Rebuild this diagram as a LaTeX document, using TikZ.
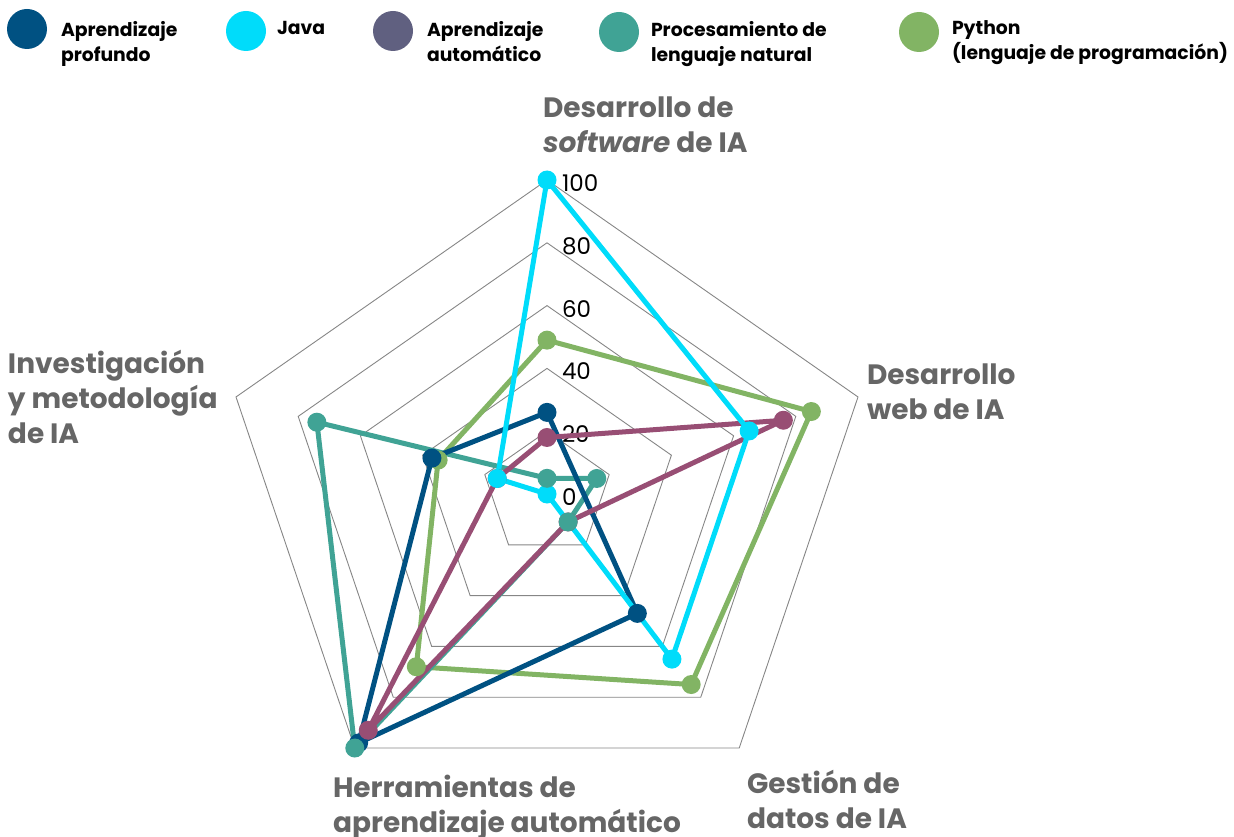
\documentclass[tikz,border=0pt]{standalone}
\usepackage{fontspec}
\setmainfont{Poppins}
\usetikzlibrary{positioning}
\definecolor{azulosc}{RGB}{0,81,130}
\definecolor{cian}{RGB}{0,220,250}
\definecolor{pizarra}{RGB}{96,96,128}
\definecolor{granate}{RGB}{152,78,116}
\definecolor{verdeazul}{RGB}{64,163,149}
\definecolor{verde}{RGB}{130,180,100}
\definecolor{gris}{RGB}{102,102,102}
\begin{document}
\begin{tikzpicture}[x=1pt,y=-1pt,inner sep=0pt,outer sep=0pt,
gridline/.style={draw=gray!95,line width=0.9pt},
serie/.style={line width=5pt,line join=round},
punto/.style={circle,minimum size=19pt},
numlabel/.style={anchor=west,xshift=15pt,yshift=-3pt,font=\fontsize{23}{23}\selectfont},
leyball/.style={circle,minimum size=40pt},
leytext/.style={anchor=north west,align=left,font=\fontsize{18.8}{25}\selectfont\bfseries},
axislabel/.style={anchor=north west,align=left,text=gris,font=\fontsize{28}{35}\selectfont\bfseries}]
\useasboundingbox (0,0) rectangle (1234,837);
% leyenda
\node[leyball,fill=azulosc] (l1) at (27,29) {};
\node[leytext] (t1) at (61,21) {Aprendizaje\\profundo};
\node[leyball,fill=cian] (l2) at (246,31) {};
\node[leytext] (t2) at (277,21) {Java};
\node[leyball,fill=pizarra] (l3) at (393,31) {};
\node[leytext] (t3) at (427,21) {Aprendizaje\\automático};
\node[leyball,fill=verdeazul] (l4) at (619,32) {};
\node[leytext] (t4) at (651,21) {Procesamiento de\\lenguaje natural};
\node[leyball,fill=verde] (l5) at (919,32) {};
\node[leytext] (t5) at (952,21) {Python\\(lenguaje de programación)};
% ejes
\node[axislabel] (a1) at (543,97) {Desarrollo de\\\textit{software} de IA};
\node[axislabel] (a2) at (867,364) {Desarrollo\\web de IA};
\node[axislabel] (a3) at (747,770) {Gestión de\\datos de IA};
\node[axislabel] (a4) at (333,775) {Herramientas de\\aprendizaje automático};
\node[axislabel] (a5) at (8,350) {Investigación\\y metodología\\de IA};
\begin{scope}[shift={(547,494)},x=3.27pt,y=3.14pt]
\foreach \r in {20,40,...,100}
  \draw[gridline] (90:\r) -- (18:\r) -- (-54:\r) -- (-126:\r) -- (162:\r) -- cycle;
\foreach \r in {0,20,...,100}
  \node[numlabel] (n\r) at (90:\r) {\r};
\foreach \s/\vt/\vr/\vbr/\vbl/\vl in {JV/100/65/65/0/16,AA/18/76/11/93/16,
  PL/5/16/11/100/74,PY/49/85/75/68/35,DP/26/0/47/98/37}{
  \coordinate (\s-t) at (90:\vt);
  \coordinate (\s-r) at (18:\vr);
  \coordinate (\s-br) at (-54:\vbr);
  \coordinate (\s-bl) at (-126:\vbl);
  \coordinate (\s-l) at (162:\vl);
}
\end{scope}
% series
\draw[serie,verde] (PY-t) -- (PY-r) -- (PY-br) -- (PY-bl) -- (PY-l) -- cycle;
\draw[serie,verdeazul] (PL-t) -- (PL-r) -- (PL-br) -- (PL-bl) -- (PL-l) -- cycle;
\draw[serie,azulosc] (DP-t) -- (DP-br) -- (DP-bl) -- (DP-l) -- cycle;
\draw[serie,granate] (AA-t) -- (AA-r) -- (AA-br) -- (AA-bl) -- (AA-l) -- cycle;
\draw[serie,cian] (JV-t) -- (JV-r) -- (JV-br) -- (JV-bl) -- (JV-l) -- cycle;
\foreach \k in {t,r,br,bl,l}
  \node[punto,fill=verde] (mPY\k) at (PY-\k) {};
\foreach \k in {t,br,bl,l}
  \node[punto,fill=azulosc] (mDP\k) at (DP-\k) {};
\foreach \s/\col in {AA/granate,JV/cian,PL/verdeazul}
  \foreach \k in {t,r,br,bl,l}
    \node[punto,fill=\col] (m\s\k) at (\s-\k) {};
\end{tikzpicture}
\end{document}
